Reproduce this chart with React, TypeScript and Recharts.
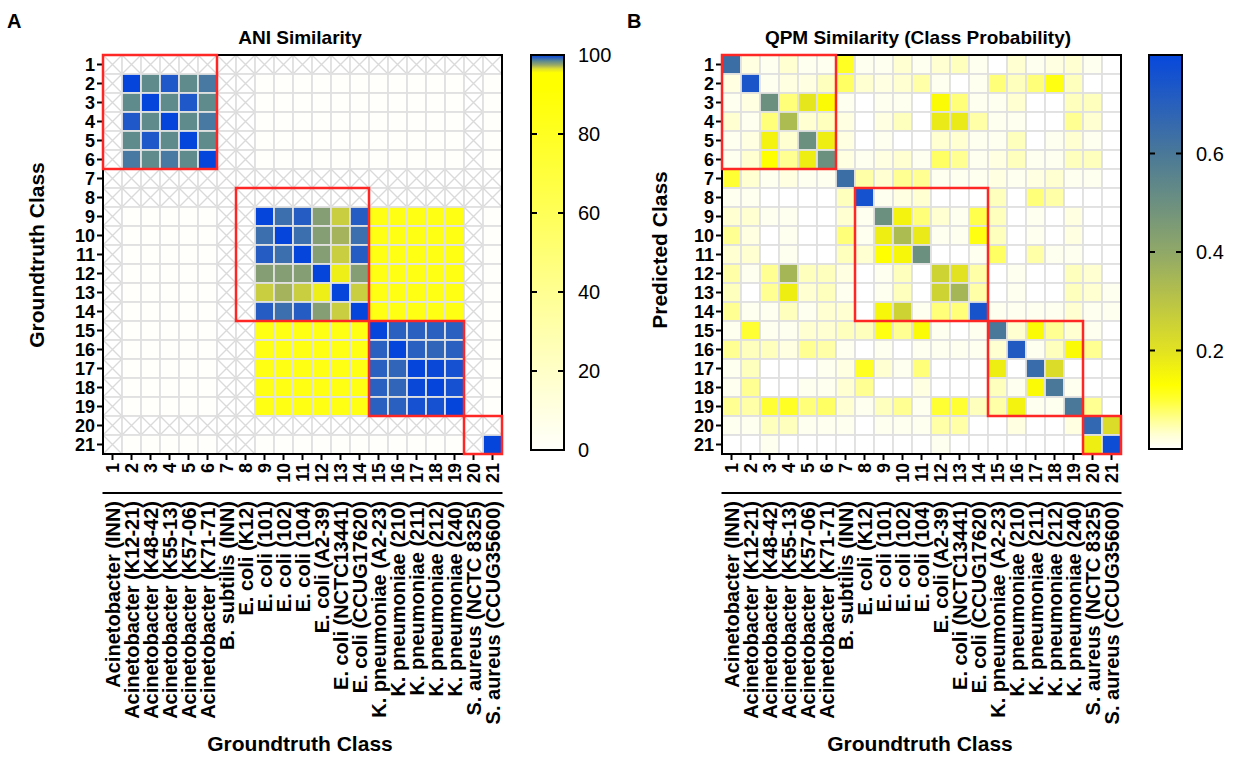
import { Bar, BarChart, ReferenceArea, XAxis, YAxis } from 'recharts'

const FONT = "'Liberation Sans', Arial, Helvetica, sans-serif"

const classNames = [
  'Acinetobacter (INN)',
  'Acinetobacter (K12-21)',
  'Acinetobacter (K48-42)',
  'Acinetobacter (K55-13)',
  'Acinetobacter (K57-06)',
  'Acinetobacter (K71-71)',
  'B. subtilis (INN)',
  'E. coli (K12)',
  'E. coli (101)',
  'E. coli (102)',
  'E. coli (104)',
  'E. coli (A2-39)',
  'E. coli (NCTC13441)',
  'E. coli (CCUG17620)',
  'K. pneumoniae (A2-23)',
  'K. pneumoniae (210)',
  'K. pneumoniae (211)',
  'K. pneumoniae (212)',
  'K. pneumoniae (240)',
  'S. aureus (NCTC 8325)',
  'S. aureus (CCUG35600)',
]
const classIds = classNames.map((_, i) => String(i + 1))

// ANI similarity (%), null = not available (crossed cell)
const n = null
const aniMatrix: (number | null)[][] = [
  [n, n, n, n, n, n, n, n, n, n, n, n, n, n, n, n, n, n, n, n, n],
  [n, 100, 98.4, 99.5, 98.4, 98.8, n, n, 0, 0, 0, 0, 0, 0, 0, 0, 0, 0, 0, n, 0],
  [n, 98.4, 100, 98.4, 99.5, 98.4, n, n, 0, 0, 0, 0, 0, 0, 0, 0, 0, 0, 0, n, 0],
  [n, 99.5, 98.4, 100, 98.4, 98.8, n, n, 0, 0, 0, 0, 0, 0, 0, 0, 0, 0, 0, n, 0],
  [n, 98.4, 99.5, 98.4, 100, 98.4, n, n, 0, 0, 0, 0, 0, 0, 0, 0, 0, 0, 0, n, 0],
  [n, 98.8, 98.4, 98.8, 98.4, 100, n, n, 0, 0, 0, 0, 0, 0, 0, 0, 0, 0, 0, n, 0],
  [n, n, n, n, n, n, n, n, n, n, n, n, n, n, n, n, n, n, n, n, n],
  [n, n, n, n, n, n, n, n, n, n, n, n, n, n, n, n, n, n, n, n, n],
  [n, 0, 0, 0, 0, 0, n, n, 100, 99.0, 99.4, 97.8, 96.8, 99.4, 85, 85, 85, 85, 85, n, 0],
  [n, 0, 0, 0, 0, 0, n, n, 99.0, 100, 99.0, 97.8, 97.3, 99.0, 85, 85, 85, 85, 85, n, 0],
  [n, 0, 0, 0, 0, 0, n, n, 99.4, 99.0, 100, 97.8, 96.8, 99.4, 85, 85, 85, 85, 85, n, 0],
  [n, 0, 0, 0, 0, 0, n, n, 97.8, 97.8, 97.8, 100, 96.0, 97.8, 85, 85, 85, 85, 85, n, 0],
  [n, 0, 0, 0, 0, 0, n, n, 96.8, 97.3, 96.8, 96.0, 100, 96.8, 85, 85, 85, 85, 85, n, 0],
  [n, 0, 0, 0, 0, 0, n, n, 99.4, 99.0, 99.4, 97.8, 96.8, 100, 85, 85, 85, 85, 85, n, 0],
  [n, 0, 0, 0, 0, 0, n, n, 85, 85, 85, 85, 85, 85, 100, 99.3, 99.3, 99.3, 99.3, n, 0],
  [n, 0, 0, 0, 0, 0, n, n, 85, 85, 85, 85, 85, 85, 99.3, 100, 99.3, 99.2, 99.3, n, 0],
  [n, 0, 0, 0, 0, 0, n, n, 85, 85, 85, 85, 85, 85, 99.3, 99.2, 100, 99.9, 99.7, n, 0],
  [n, 0, 0, 0, 0, 0, n, n, 85, 85, 85, 85, 85, 85, 99.3, 99.2, 99.9, 100, 99.7, n, 0],
  [n, 0, 0, 0, 0, 0, n, n, 85, 85, 85, 85, 85, 85, 99.3, 99.3, 99.7, 99.7, 100, n, 0],
  [n, n, n, n, n, n, n, n, n, n, n, n, n, n, n, n, n, n, n, n, n],
  [n, 0, 0, 0, 0, 0, n, n, 0, 0, 0, 0, 0, 0, 0, 0, 0, 0, 0, n, 100],
]

// QPM class probability, rows = predicted, cols = groundtruth
const qpmMatrix: number[][] = [
  [0.64, 0.02, 0.01, 0.03, 0.01, 0.01, 0.11, 0.01, 0.01, 0.03, 0.01, 0.03, 0.04, 0.01, 0, 0.03, 0.01, 0.02, 0.03, 0.01, 0],
  [0.02, 0.74, 0.01, 0.02, 0.02, 0.04, 0.08, 0.03, 0.02, 0.03, 0.05, 0.01, 0, 0.01, 0.07, 0.04, 0.07, 0.12, 0.04, 0, 0],
  [0.01, 0.02, 0.5, 0.07, 0.19, 0.14, 0.01, 0, 0.01, 0.01, 0, 0.14, 0.07, 0.01, 0.01, 0.03, 0, 0, 0.04, 0.04, 0],
  [0.03, 0.01, 0.07, 0.33, 0.03, 0.04, 0.02, 0, 0.02, 0.04, 0, 0.18, 0.18, 0.05, 0.01, 0.01, 0, 0, 0.06, 0.03, 0],
  [0.01, 0.02, 0.16, 0.03, 0.5, 0.17, 0.02, 0, 0.01, 0, 0, 0.03, 0.03, 0.01, 0.01, 0.04, 0, 0.01, 0.03, 0.01, 0],
  [0.01, 0.03, 0.13, 0.06, 0.17, 0.5, 0.02, 0.01, 0.02, 0.03, 0.01, 0.08, 0.06, 0.01, 0.02, 0.04, 0.01, 0.01, 0.04, 0.04, 0],
  [0.1, 0.03, 0.01, 0.02, 0.01, 0.01, 0.64, 0.05, 0.03, 0.06, 0.06, 0.01, 0.01, 0.01, 0.02, 0.01, 0.02, 0.03, 0.01, 0.01, 0],
  [0.01, 0.01, 0, 0, 0, 0, 0.04, 0.76, 0.01, 0.02, 0.03, 0, 0, 0, 0.04, 0, 0.07, 0.05, 0, 0, 0],
  [0.03, 0.03, 0.01, 0.01, 0, 0, 0.03, 0.01, 0.5, 0.16, 0.07, 0.03, 0.01, 0.09, 0.04, 0, 0.01, 0, 0.02, 0, 0],
  [0.06, 0.02, 0, 0.01, 0, 0, 0.07, 0.01, 0.17, 0.33, 0.18, 0.01, 0.01, 0.12, 0.04, 0, 0.01, 0, 0.02, 0, 0],
  [0.03, 0.03, 0, 0.01, 0, 0, 0.04, 0.03, 0.13, 0.15, 0.5, 0, 0, 0.01, 0.08, 0, 0.05, 0.01, 0.01, 0, 0],
  [0.05, 0.01, 0.06, 0.35, 0.04, 0.04, 0.02, 0, 0.01, 0.04, 0, 0.25, 0.2, 0.05, 0, 0.01, 0, 0, 0.04, 0.03, 0],
  [0.04, 0, 0.06, 0.17, 0.03, 0.04, 0.01, 0, 0.01, 0.04, 0, 0.25, 0.35, 0.05, 0, 0.01, 0, 0, 0.04, 0.03, 0.01],
  [0.06, 0.01, 0.01, 0.04, 0.01, 0.03, 0.03, 0, 0.15, 0.25, 0.01, 0.07, 0.07, 0.75, 0.01, 0.01, 0.01, 0.01, 0.03, 0.01, 0.01],
  [0.01, 0.1, 0.01, 0.01, 0.03, 0.03, 0.04, 0.04, 0.12, 0.06, 0.14, 0.01, 0, 0.01, 0.6, 0.03, 0.14, 0.06, 0.03, 0.01, 0],
  [0.06, 0.04, 0.04, 0.02, 0.06, 0.05, 0.01, 0, 0.01, 0, 0.01, 0.01, 0.01, 0.01, 0.03, 0.72, 0.01, 0.04, 0.14, 0.06, 0],
  [0.01, 0.04, 0, 0, 0, 0.01, 0.02, 0.11, 0.03, 0.01, 0.07, 0, 0, 0, 0.17, 0, 0.65, 0.22, 0, 0, 0],
  [0.01, 0.06, 0, 0, 0.01, 0.01, 0.03, 0.06, 0, 0, 0.02, 0, 0, 0, 0.04, 0.01, 0.14, 0.6, 0.01, 0, 0],
  [0.06, 0.05, 0.1, 0.11, 0.07, 0.08, 0.03, 0.01, 0.04, 0.06, 0.01, 0.1, 0.1, 0.04, 0.05, 0.16, 0.01, 0.01, 0.6, 0.06, 0],
  [0.01, 0.01, 0.04, 0.04, 0.01, 0.01, 0.01, 0, 0.01, 0.01, 0.01, 0.05, 0.05, 0, 0, 0.02, 0, 0, 0.02, 0.67, 0.22],
  [0, 0, 0.01, 0, 0, 0, 0, 0, 0, 0, 0, 0.01, 0, 0, 0, 0, 0, 0, 0, 0.17, 0.78],
]

// species groups outlined in red: [first class, last class]
const groupBoxes: [number, number][] = [
  [1, 6],
  [8, 14],
  [15, 19],
  [20, 21],
]

const aniTicks = [0, 20, 40, 60, 80, 100]
const qpmTicks = [0.2, 0.4, 0.6]

const aniStops: [number, string][] = [
  [0, '#fffffb'],
  [20, '#ffffc8'],
  [40, '#ffff92'],
  [60, '#ffff58'],
  [80, '#ffff22'],
  [92, '#ffff00'],
  [95.5, '#ffff00'],
  [96.5, '#dede30'],
  [97.5, '#98a868'],
  [98.5, '#5a8890'],
  [99.3, '#2a60c0'],
  [100, '#0545dc'],
]
const qpmStops: [number, string][] = [
  [0, '#ffffff'],
  [0.03, '#ffffd2'],
  [0.06, '#ffff92'],
  [0.1, '#ffff34'],
  [0.13, '#ffff00'],
  [0.2, '#e2e222'],
  [0.3, '#bac446'],
  [0.4, '#90a868'],
  [0.5, '#6c9080'],
  [0.6, '#4a7898'],
  [0.7, '#2860bc'],
  [0.8, '#0648dc'],
]

// one unit-high stacked segment per cell
const cellRows = classIds.map((id) => {
  const row: Record<string, string | number> = { cls: id }
  classIds.forEach((_, r) => (row[`r${r}`] = 1))
  return row
})
const rowTicks = classIds.map((_, i) => i + 0.5)

function hexRgb(h: string) {
  const v = parseInt(h.slice(1), 16)
  return [(v >> 16) & 255, (v >> 8) & 255, v & 255]
}

function colorAt(stops: [number, string][], v: number): string {
  if (v <= stops[0][0]) return stops[0][1]
  for (let i = 1; i < stops.length; i++) {
    if (v <= stops[i][0]) {
      const [a, ca] = stops[i - 1]
      const [b, cb] = stops[i]
      const t = (v - a) / (b - a)
      const p = hexRgb(ca)
      const q = hexRgb(cb)
      const m = p.map((c, k) => Math.round(c + (q[k] - c) * t))
      return `rgb(${m[0]},${m[1]},${m[2]})`
    }
  }
  return stops[stops.length - 1][1]
}

function HeatCell(props: any) {
  const { x, y, width, height, value, stops } = props
  const x0 = Math.min(x, x + width)
  const y0 = Math.min(y, y + height)
  const w = Math.abs(width)
  const h = Math.abs(height)
  const missing = value === null || value === undefined
  return (
    <g>
      <rect x={x0} y={y0} width={w} height={h} fill={missing ? '#ffffff' : colorAt(stops, value)} stroke="#e0e0e0" strokeWidth={1.8} />
      {missing && (
        <path
          d={`M${x0},${y0}L${x0 + w},${y0 + h}M${x0 + w},${y0}L${x0},${y0 + h}`}
          stroke="#dadada"
          strokeWidth={1.4}
        />
      )}
    </g>
  )
}

function ClassTick(props: any) {
  const { x, y, payload } = props
  const idx = Number(payload.value) - 1
  return (
    <g fontFamily={FONT} fontWeight={700} fill="#000">
      <text x={x} y={y + 1} dy="0.36em" textAnchor="end" fontSize={18} transform={`rotate(-90 ${x} ${y + 1})`}>
        {payload.value}
      </text>
      <line x1={x - 10} x2={x + 10} y1={y + 31} y2={y + 31} stroke="#000" strokeWidth={2} />
      <text x={x} y={y + 39} dy="0.36em" textAnchor="end" fontSize={20} transform={`rotate(-90 ${x} ${y + 39})`}>
        {classNames[idx]}
      </text>
    </g>
  )
}

function HeatPanel({ matrix, stops, left, axisW }: { matrix: (number | null)[][]; stops: [number, string][]; left: number; axisW: number }) {
  return (
    <div style={{ position: 'absolute', left, top: 0 }}>
      <BarChart
        width={520}
        height={758}
        data={cellRows}
        margin={{ top: 55, right: 520 - axisW - 399, bottom: 10, left: 0 }}
        barCategoryGap={0}
        barGap={0}
      >
        <XAxis
          dataKey="cls"
          interval={0}
          height={294}
          tick={(p: any) => <ClassTick {...p} />}
          tickSize={6}
          axisLine={{ stroke: '#000', strokeWidth: 2 }}
          tickLine={{ stroke: '#000', strokeWidth: 2 }}
        />
        <YAxis
          type="number"
          domain={[0, 21]}
          reversed
          ticks={rowTicks}
          interval={0}
          width={axisW}
          tickFormatter={(v: number) => String(Math.round(v + 0.5))}
          tick={{ fill: '#000', fontSize: 18, fontWeight: 700, fontFamily: FONT }}
          tickSize={6}
          axisLine={{ stroke: '#000', strokeWidth: 2 }}
          tickLine={{ stroke: '#000', strokeWidth: 2 }}
        />
        {classIds.map((_, ri) => (
          <Bar
            key={ri}
            dataKey={`r${ri}`}
            stackId="cells"
            isAnimationActive={false}
            shape={(p: any) => {
              const ci = p.payload && p.payload.cls ? Number(p.payload.cls) - 1 : p.index
              return <HeatCell {...p} value={matrix[ri][ci]} stops={stops} />
            }}
          />
        ))}
        <ReferenceArea x1="1" x2="21" y1={0} y2={21} fill="none" stroke="#000" strokeWidth={2} ifOverflow="visible" zIndex={1500} />
        {groupBoxes.map(([a, b]) => (
          <ReferenceArea
            key={a}
            x1={String(a)}
            x2={String(b)}
            y1={a - 1}
            y2={b}
            fill="none"
            fillOpacity={0}
            stroke="#ff2626"
            strokeWidth={2.5}
            ifOverflow="visible"
            zIndex={1600}
          />
        ))}
      </BarChart>
    </div>
  )
}

function ScaleTick(props: any) {
  const { x, y, payload, max, fmt } = props
  const v = payload.value
  const inner = v > 0 && v < max
  return (
    <g>
      {inner && <line x1={x - 6} x2={x} y1={y} y2={y} stroke="#000" strokeWidth={2} />}
      {inner && <line x1={x - 33} x2={x - 27} y1={y} y2={y} stroke="#000" strokeWidth={2} />}
      <text x={x + 14} y={y} dy="0.36em" fontSize={20} fontFamily={FONT} fill="#000">
        {fmt(v)}
      </text>
    </g>
  )
}

function ColorScale({ left, bottom, max, ticks, gradId, fmt }: { left: number; bottom: number; max: number; ticks: number[]; gradId: string; fmt: (v: number) => string }) {
  return (
    <div style={{ position: 'absolute', left, top: 0 }}>
      <BarChart
        width={104}
        height={758}
        data={[{ k: 'scale', v: max }]}
        margin={{ top: 55, right: 0, bottom: 758 - bottom, left: 21 }}
        barCategoryGap={0}
      >
        <XAxis dataKey="k" hide />
        <YAxis
          orientation="right"
          type="number"
          domain={[0, max]}
          ticks={ticks}
          interval={0}
          width={50}
          axisLine={false}
          tickLine={false}
          tickSize={0}
          tickMargin={0}
          tick={(p: any) => <ScaleTick {...p} max={max} fmt={fmt} />}
        />
        <Bar
          dataKey="v"
          isAnimationActive={false}
          shape={(p: any) => (
            <rect x={p.x} y={p.y} width={p.width} height={p.height} fill={`url(#${gradId})`} stroke="#000" strokeWidth={2} />
          )}
        />
      </BarChart>
    </div>
  )
}

function Gradient({ id, stops, max }: { id: string; stops: [number, string][]; max: number }) {
  return (
    <linearGradient id={id} x1="0" y1="1" x2="0" y2="0">
      {stops.map(([v, c]) => (
        <stop key={v} offset={v / max} stopColor={c} />
      ))}
    </linearGradient>
  )
}

export default function App() {
  return (
    <div style={{ position: 'absolute', left: 0, top: 0, width: 1236, height: 758, background: '#fff', fontFamily: FONT }}>
      <HeatPanel matrix={aniMatrix} stops={aniStops} left={0} axisW={103} />
      <HeatPanel matrix={qpmMatrix} stops={qpmStops} left={620} axisW={102} />
      <ColorScale left={510} bottom={450} max={100} ticks={aniTicks} gradId="gradAni" fmt={(v) => String(v)} />
      <ColorScale left={1128} bottom={449} max={0.8} ticks={qpmTicks} gradId="gradQpm" fmt={(v) => v.toFixed(1)} />
      <svg width={1236} height={758} style={{ position: 'absolute', left: 0, top: 0, pointerEvents: 'none' }} fontFamily={FONT} fontWeight={700} fill="#000">
        <defs>
          <Gradient id="gradAni" stops={aniStops} max={100} />
          <Gradient id="gradQpm" stops={qpmStops} max={0.8} />
        </defs>
        <text x={7} y={28} fontSize={20}>A</text>
        <text x={627} y={28} fontSize={20}>B</text>
        <text x={300} y={44} fontSize={19} textAnchor="middle">ANI Similarity</text>
        <text x={918} y={44} fontSize={19} textAnchor="middle">QPM Similarity (Class Probability)</text>
        <text x={44} y={255} fontSize={21} textAnchor="middle" transform="rotate(-90 44 255)">Groundtruth Class</text>
        <text x={667} y={250} fontSize={21} textAnchor="middle" transform="rotate(-90 667 250)">Predicted Class</text>
        <text x={300} y={751} fontSize={21} textAnchor="middle">Groundtruth Class</text>
        <text x={920} y={751} fontSize={21} textAnchor="middle">Groundtruth Class</text>
      </svg>
    </div>
  )
}
